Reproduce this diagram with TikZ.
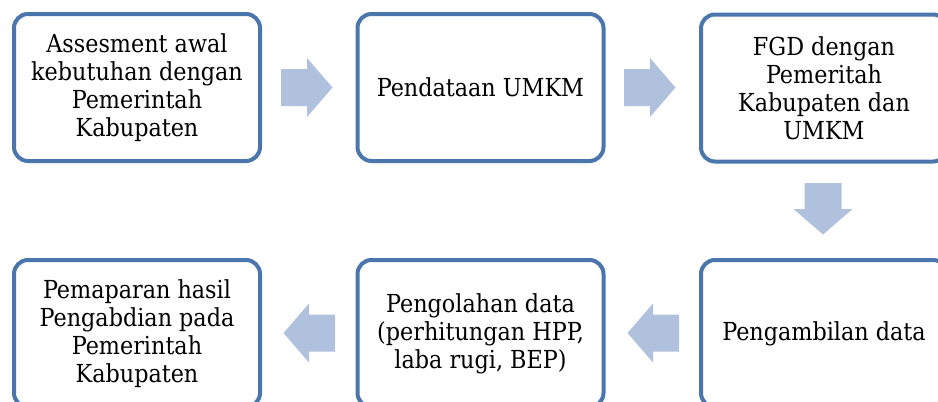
\documentclass[tikz,border=0pt]{standalone}
\usepackage{fontspec}
\setmainfont{DejaVu Serif Condensed}
\definecolor{boxline}{RGB}{74,117,173}
\definecolor{arrowfill}{RGB}{176,193,222}
\tikzset{
  stepbox/.style={draw=boxline, line width=4pt, rounded corners=14pt, fill=white,
    minimum width=246pt, minimum height=147pt, inner sep=0pt,
    align=center, font=\fontsize{24.8}{28}\selectfont},
  blockarrow/.pic={
    \fill[arrowfill] (-26,-18.5) -- (0,-18.5) -- (0,-29.5) -- (25.5,0)
      -- (0,29.5) -- (0,18.5) -- (-26,18.5) -- cycle;
  }
}
\begin{document}
\begin{tikzpicture}[x=1pt,y=-1pt]
\useasboundingbox (0,0) rectangle (938,402);
\clip (0,0) rectangle (938,402);
% process boxes, top row left to right, bottom row right to left
\node[stepbox] (b1) at (137,87.5) {Assesment awal\\kebutuhan dengan\\Pemerintah\\Kabupaten};
\node[stepbox] (b2) at (480.5,87.5) {Pendataan UMKM};
\node[stepbox] (b3) at (824,88) {FGD dengan\\Pemeritah\\Kabupaten dan\\UMKM};
\node[stepbox] (b6) at (824,333.5) {Pengambilan data};
\node[stepbox] (b5) at (480.5,333.5) {Pengolahan data\\(perhitungan HPP,\\laba rugi, BEP)};
\node[stepbox] (b4) at (137,333.5) {Pemaparan hasil\\Pengabdian pada\\Pemerintah\\Kabupaten};
% block arrows between the steps
\coordinate (a12) at (307,87.5);
\coordinate (a23) at (650,87.5);
\coordinate (a36) at (823,209);
\coordinate (a65) at (653,333);
\coordinate (a54) at (309,333);
\pic at (a12) {blockarrow};
\pic at (a23) {blockarrow};
\pic[rotate=-90] at (a36) {blockarrow};
\pic[rotate=180] at (a65) {blockarrow};
\pic[rotate=180] at (a54) {blockarrow};
\end{tikzpicture}
\end{document}
